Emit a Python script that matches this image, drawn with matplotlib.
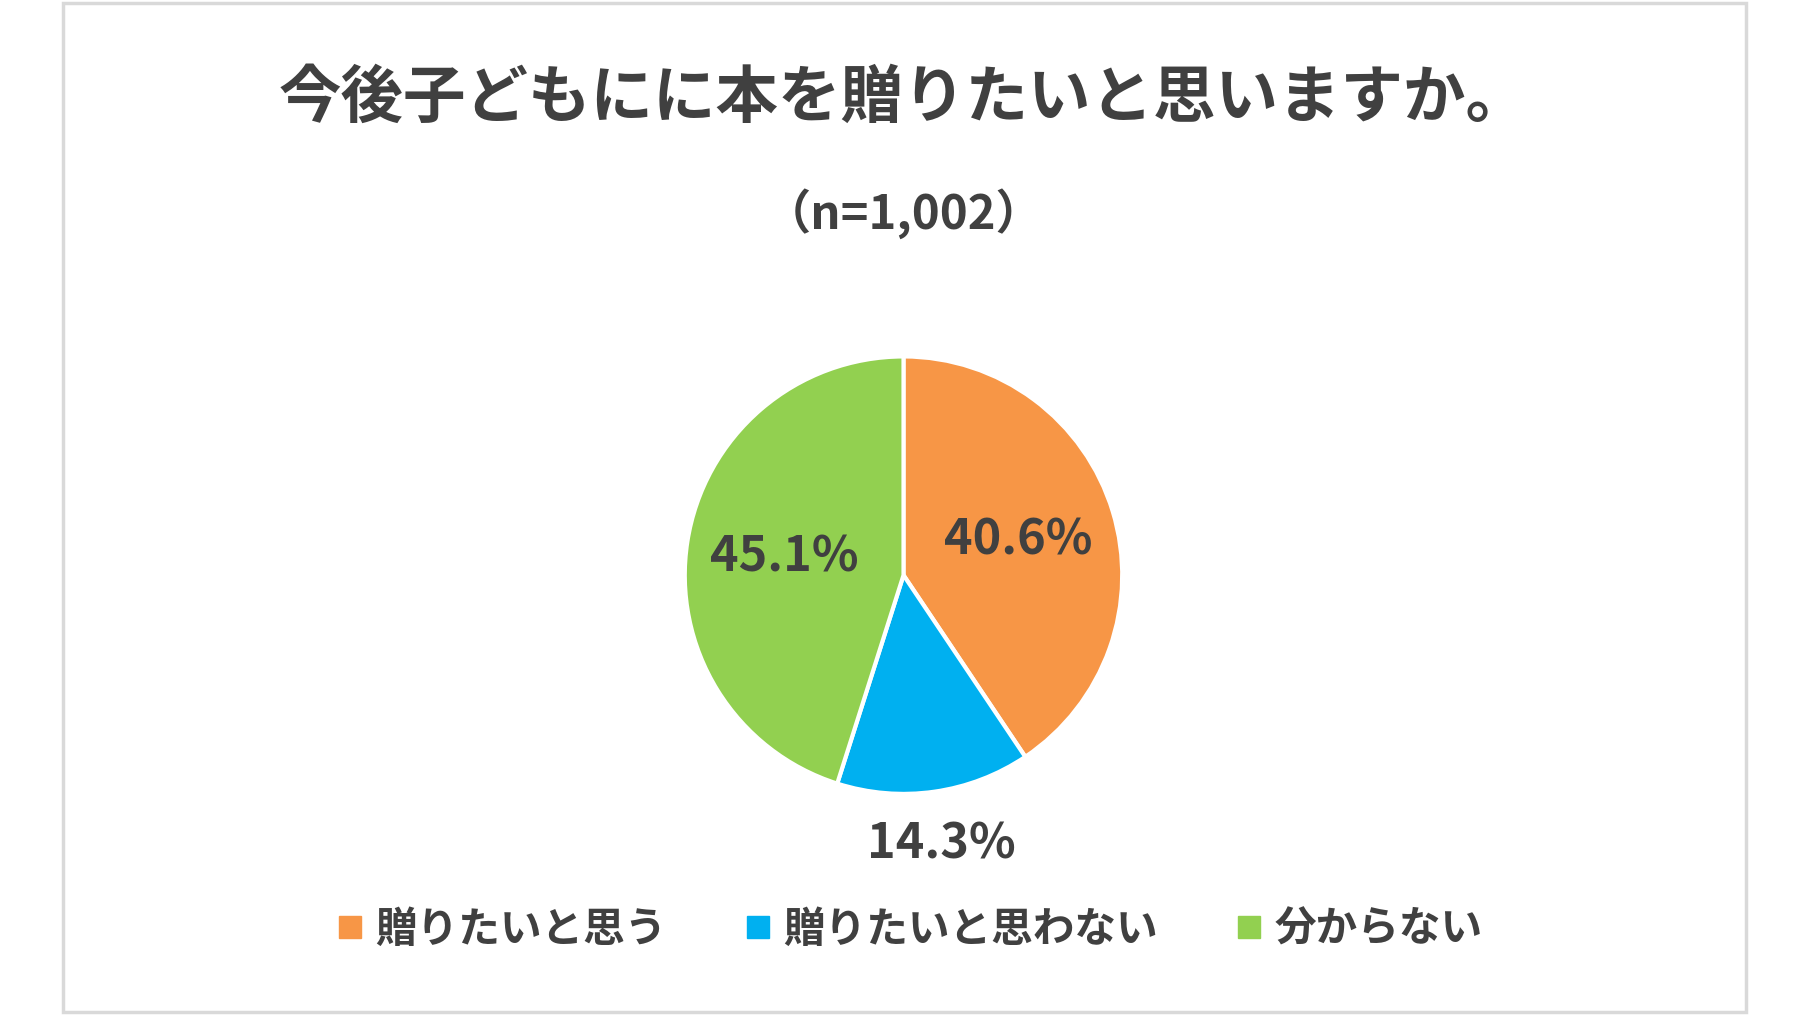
import matplotlib
matplotlib.use("Agg")
import matplotlib.pyplot as plt
import numpy as np
from matplotlib.patches import Rectangle
from matplotlib.lines import Line2D

plt.rcParams['font.family'] = ['Noto Sans CJK JP', 'DejaVu Sans']

categories = ['贈りたいと思う', '贈りたいと思わない', '分からない']
values = [40.6, 14.3, 45.1]
colors = ['#F79646', '#00B0F0', '#92D050']
label_r = [0.55, 1.24, 0.55]
title = '今後子どもにに本を贈りたいと思いますか。'
subtitle = '（n=1,002）'
txt = '#404040'

fig = plt.figure(figsize=(18.07, 10.18), dpi=100)
fig.patches.append(Rectangle((0.035, 0.006), 0.931, 0.991, transform=fig.transFigure,
                             fill=False, edgecolor='#D9D9D9', linewidth=2.5))
fig.text(0.5, 0.903, title, ha='center', va='center', fontsize=45, fontweight='bold', color=txt)
fig.text(0.5, 0.79, subtitle, ha='center', va='center', fontsize=34, fontweight='bold', color=txt)

ax = fig.add_axes([0.5 - 0.1223, 0.435 - 0.217, 0.2446, 0.434])
wedges, _ = ax.pie(values, colors=colors, startangle=90, counterclock=False,
                   wedgeprops=dict(edgecolor='white', linewidth=3))
ax.set_xlim(-1.01, 1.01)
ax.set_ylim(-1.01, 1.01)
for w, v, r in zip(wedges, values, label_r):
    a = np.deg2rad((w.theta1 + w.theta2) / 2)
    ax.text(r * np.cos(a), r * np.sin(a), f'{v}%', ha='center', va='center',
            fontsize=35, fontweight='bold', color=txt)
ax.set_aspect('equal')

handles = [Line2D([], [], marker='s', linestyle='', markersize=16, color=c) for c in colors]
leg = fig.legend(handles, categories, loc='center', bbox_to_anchor=(0.5, 0.087), ncol=3,
                 frameon=False, fontsize=30, handletextpad=0.0, columnspacing=1.6,
                 handlelength=1.2)
for t in leg.get_texts():
    t.set_color(txt)
    t.set_fontweight('bold')

fig.savefig('out.png', dpi=100, facecolor='white')
